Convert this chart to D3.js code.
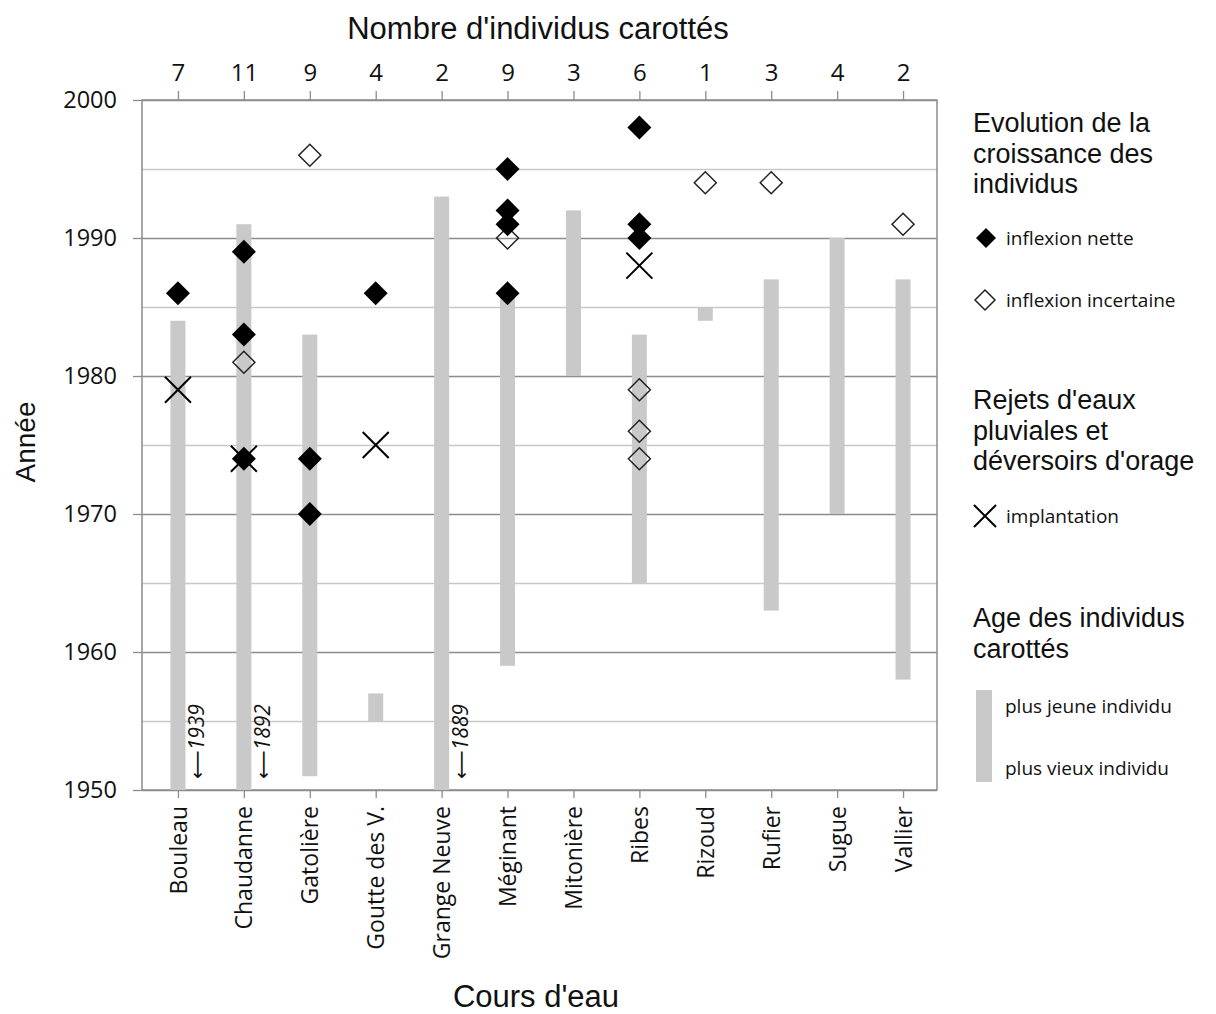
<!DOCTYPE html>
<html>
<head>
<meta charset="utf-8">
<script src="https://cdn.jsdelivr.net/npm/d3@7"></script>
<style>
  body { margin: 0; background: #fff; }
  text { fill: #111; }
</style>
</head>
<body>
<div id="chart"></div>
<script>
// Cours d'eau et nombre d'individus carottés
const cours = ["Bouleau", "Chaudanne", "Gatolière", "Goutte des V.", "Grange Neuve", "Méginant",
  "Mitonière", "Ribes", "Rizoud", "Rufier", "Sugue", "Vallier"];
const nbIndividus = [7, 11, 9, 4, 2, 9, 3, 6, 1, 3, 4, 2];

// Age des individus : plus jeune (haut de barre) et plus vieux (bas de barre)
const plusJeune = [1984, 1991, 1983, 1957, 1993, 1986, 1992, 1983, 1985, 1987, 1990, 1987];
const plusVieux = [1950, 1950, 1951, 1955, 1950, 1959, 1980, 1965, 1984, 1963, 1970, 1958];

// Individus plus vieux que l'axe (flèche + année)
const horsAxe = [["Bouleau", 1939], ["Chaudanne", 1892], ["Grange Neuve", 1889]];

// Inflexions de croissance [cours, année]
const inflexionNette = [
  ["Bouleau", 1986], ["Chaudanne", 1989], ["Chaudanne", 1983], ["Chaudanne", 1974],
  ["Gatolière", 1974], ["Gatolière", 1970], ["Goutte des V.", 1986],
  ["Méginant", 1995], ["Méginant", 1992], ["Méginant", 1991], ["Méginant", 1986],
  ["Ribes", 1998], ["Ribes", 1991], ["Ribes", 1990]
];
const inflexionIncertaine = [
  ["Chaudanne", 1981], ["Gatolière", 1996], ["Méginant", 1990],
  ["Ribes", 1979], ["Ribes", 1976], ["Ribes", 1974],
  ["Rizoud", 1994], ["Rufier", 1994], ["Vallier", 1991]
];
// Implantation des rejets d'eaux pluviales
const implantation = [["Bouleau", 1979], ["Chaudanne", 1974], ["Goutte des V.", 1975], ["Ribes", 1988]];

const anneesMajeures = [1950, 1960, 1970, 1980, 1990, 2000];
const anneesMineures = [1955, 1965, 1975, 1985, 1995];

const width = 1216;
const height = 1014;
const plot = { left: 142, right: 937, top: 100, bottom: 790 };

const svg = d3.select("#chart").append("svg")
  .attr("width", width)
  .attr("height", height);

const x = d3.scalePoint()
  .domain(cours)
  .range([145, 936])
  .padding(0.5);

const y = d3.scaleLinear()
  .domain([1950, 2000])
  .range([plot.bottom, plot.top]);

const pw = plot.right - plot.left;

// Quadrillage
svg.append("g")
  .attr("transform", `translate(${plot.left},0)`)
  .call(d3.axisLeft(y).tickValues(anneesMineures).tickSize(-pw).tickFormat(""))
  .call(g => g.select(".domain").remove())
  .selectAll("line").attr("stroke", "#c8c8c8").attr("stroke-width", 1.3);

svg.append("g")
  .attr("transform", `translate(${plot.left},0)`)
  .call(d3.axisLeft(y).tickValues(anneesMajeures).tickSize(-pw).tickFormat(""))
  .call(g => g.select(".domain").remove())
  .selectAll("line").attr("stroke", "#8c8c8c").attr("stroke-width", 1.3);

// Cadre
svg.append("rect")
  .attr("x", plot.left).attr("y", plot.top)
  .attr("width", pw).attr("height", plot.bottom - plot.top)
  .attr("fill", "none").attr("stroke", "#8c8c8c").attr("stroke-width", 1.5);

// Barres d'age
const barW = 15;
svg.append("g").selectAll("rect")
  .data(cours)
  .join("rect")
  .attr("x", d => x(d) - barW / 2)
  .attr("y", (d, i) => y(plusJeune[i]))
  .attr("width", barW)
  .attr("height", (d, i) => y(plusVieux[i]) - y(plusJeune[i]))
  .attr("fill", "#c9c9c9");

// Axe Y
const yAxis = svg.append("g")
  .attr("transform", `translate(${plot.left},0)`)
  .call(d3.axisLeft(y).tickValues(anneesMajeures).tickSize(9).tickPadding(16).tickFormat(d3.format("d")));
yAxis.select(".domain").remove();
yAxis.selectAll("line").attr("stroke", "#8c8c8c").attr("stroke-width", 1.3);
yAxis.selectAll("text")
  .attr("font-family", "Open Sans").attr("font-size", 23.5).attr("fill", "#111");

// Axe du haut : nombre d'individus
const topAxis = svg.append("g")
  .attr("transform", `translate(0,${plot.top})`)
  .call(d3.axisTop(x).tickSize(9).tickPadding(10).tickFormat((d, i) => nbIndividus[i]));
topAxis.select(".domain").remove();
topAxis.selectAll("line").attr("stroke", "#8c8c8c").attr("stroke-width", 1.3);
topAxis.selectAll("text")
  .attr("font-family", "Open Sans").attr("font-size", 24).attr("fill", "#111");

// Axe du bas : cours d'eau
const botAxis = svg.append("g")
  .attr("transform", `translate(0,${plot.bottom})`)
  .call(d3.axisBottom(x).tickSize(8));
botAxis.select(".domain").remove();
botAxis.selectAll("line").attr("stroke", "#8c8c8c").attr("stroke-width", 1.3);
botAxis.selectAll("text")
  .attr("font-family", "Open Sans").attr("font-size", 23).attr("fill", "#111")
  .attr("transform", "rotate(-90)")
  .attr("text-anchor", "end")
  .attr("x", -16).attr("y", 0).attr("dy", "0.35em");

// Flèches pour les individus hors axe
const fleches = svg.append("g").selectAll("text")
  .data(horsAxe)
  .join("text")
  .attr("transform", d => `translate(${x(d[0]) + 19},${y(1950) - 11}) rotate(-90)`)
  .attr("dy", "0.35em")
  .attr("font-family", "Open Sans").attr("font-style", "italic").attr("font-size", 21);
fleches.append("tspan").attr("font-family", "DejaVu Sans").attr("font-style", "normal")
  .attr("font-size", 20).text("\u27F5");
fleches.append("tspan").text(d => d[1]);

// Formes
const losange = r => `M0,${-r}L${r},0L0,${r}L${-r},0Z`;
const croix = r => `M${-r},${-r}L${r},${r}M${-r},${r}L${r},${-r}`;

svg.append("g").selectAll("path")
  .data(inflexionIncertaine)
  .join("path")
  .attr("transform", d => `translate(${x(d[0])},${y(d[1])})`)
  .attr("d", losange(11))
  .attr("fill", "none").attr("stroke", "#222").attr("stroke-width", 1.5);

svg.append("g").selectAll("path")
  .data(inflexionNette)
  .join("path")
  .attr("transform", d => `translate(${x(d[0])},${y(d[1])})`)
  .attr("d", losange(12))
  .attr("fill", "#000");

svg.append("g").selectAll("path")
  .data(implantation)
  .join("path")
  .attr("transform", d => `translate(${x(d[0])},${y(d[1])})`)
  .attr("d", croix(13))
  .attr("fill", "none").attr("stroke", "#000").attr("stroke-width", 2);

// Titres des axes
svg.append("text")
  .attr("x", 538).attr("y", 39)
  .attr("text-anchor", "middle")
  .attr("font-family", "Liberation Sans").attr("font-size", 31)
  .text("Nombre d'individus carottés");

svg.append("text")
  .attr("x", 536).attr("y", 1007)
  .attr("text-anchor", "middle")
  .attr("font-family", "Liberation Sans").attr("font-size", 31)
  .text("Cours d'eau");

svg.append("text")
  .attr("transform", "translate(35,442) rotate(-90)")
  .attr("text-anchor", "middle")
  .attr("font-family", "Liberation Sans").attr("font-size", 28)
  .text("Année");

// Légende
const leg = svg.append("g");
const titre = (lignes, y0) => lignes.forEach((t, i) => {
  leg.append("text")
    .attr("x", 973).attr("y", y0 + i * 30.5)
    .attr("font-family", "Liberation Sans").attr("font-size", 27)
    .text(t);
});
const item = (t, x0, y0) => leg.append("text")
  .attr("x", x0).attr("y", y0)
  .attr("font-family", "Open Sans").attr("font-size", 19)
  .text(t);

titre(["Evolution de la", "croissance des", "individus"], 132);
leg.append("path").attr("transform", "translate(986,238)").attr("d", losange(10)).attr("fill", "#000");
item("inflexion nette", 1006, 245);
leg.append("path").attr("transform", "translate(985,300)").attr("d", losange(10))
  .attr("fill", "none").attr("stroke", "#222").attr("stroke-width", 1.5);
item("inflexion incertaine", 1006, 307);

titre(["Rejets d'eaux", "pluviales et", "déversoirs d'orage"], 409);
leg.append("path").attr("transform", "translate(985,516)").attr("d", croix(11))
  .attr("fill", "none").attr("stroke", "#000").attr("stroke-width", 2);
item("implantation", 1006, 523);

titre(["Age des individus", "carottés"], 627);
leg.append("rect").attr("x", 976).attr("y", 690).attr("width", 16).attr("height", 92).attr("fill", "#c9c9c9");
item("plus jeune individu", 1005, 713);
item("plus vieux individu", 1005, 775);
</script>
</body>
</html>
